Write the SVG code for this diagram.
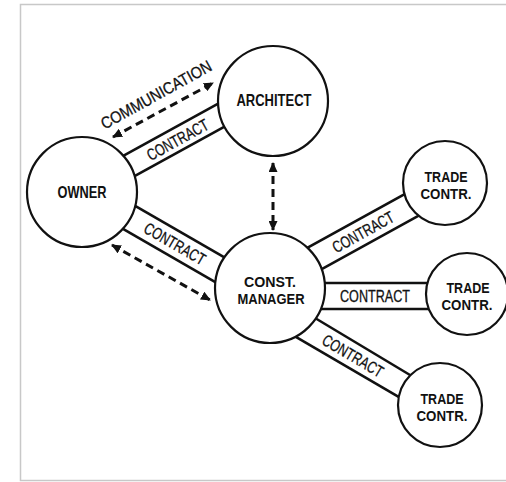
<svg xmlns="http://www.w3.org/2000/svg" width="506" height="482" viewBox="0 0 506 482">
<defs>
<style>
.frame{fill:none;stroke:#c8c8c8;stroke-width:1.5}
.band{stroke:#111;stroke-width:2.6;fill:none;stroke-linecap:butt}
.dash{stroke:#111;stroke-width:3;fill:none;stroke-dasharray:8 5}
.node circle{fill:#fff;stroke:#111;stroke-width:2.2}
.lbl{font-family:"Liberation Sans",Arial,sans-serif;font-weight:bold;font-size:16.5px;fill:#111;text-anchor:middle}
.lbl2{font-family:"Liberation Sans",Arial,sans-serif;font-weight:bold;font-size:14.5px;fill:#111;text-anchor:middle}
.ctr{font-family:"Liberation Sans",Arial,sans-serif;font-size:16.5px;fill:#111;stroke:#111;stroke-width:0.3;text-anchor:middle}
</style>
<marker id="ah" markerWidth="10" markerHeight="9" refX="9" refY="4.5" orient="auto-start-reverse" markerUnits="userSpaceOnUse">
<path d="M0,0 L10,4.5 L0,9 z" fill="#111"/>
</marker>
</defs>
<rect class="frame" x="20.5" y="4.5" width="500" height="476"/>
<g id="connectors">
<line class="band" x1="110" y1="163.2" x2="240" y2="91.7"/>
<line class="band" x1="110" y1="189.7" x2="240" y2="118.2"/>
<line class="band" x1="110" y1="191.3" x2="240" y2="266.3"/>
<line class="band" x1="110" y1="221.3" x2="240" y2="296.4"/>
<line class="band" x1="290" y1="257.4" x2="440" y2="174.7"/>
<line class="band" x1="290" y1="286.7" x2="440" y2="203.9"/>
<line class="band" x1="300" y1="283" x2="450" y2="283"/>
<line class="band" x1="300" y1="309" x2="450" y2="309"/>
<line class="band" x1="290" y1="303" x2="430" y2="387"/>
<line class="band" x1="280" y1="327.6" x2="420" y2="409.4"/>
<line class="dash" x1="113" y1="137" x2="213" y2="83" marker-start="url(#ah)" marker-end="url(#ah)"/>
<line class="dash" x1="273" y1="163" x2="273" y2="230" marker-start="url(#ah)" marker-end="url(#ah)"/>
<line class="dash" x1="112" y1="245" x2="210" y2="300" marker-start="url(#ah)" marker-end="url(#ah)"/>
<text class="ctr" transform="translate(156,94.5) rotate(-29)" y="6" textLength="124" lengthAdjust="spacingAndGlyphs">COMMUNICATION</text>
<text class="ctr" transform="translate(177.5,139.5) rotate(-29)" y="6" textLength="68" lengthAdjust="spacingAndGlyphs">CONTRACT</text>
<text class="ctr" transform="translate(175,243.5) rotate(30)" y="6" textLength="68" lengthAdjust="spacingAndGlyphs">CONTRACT</text>
<text class="ctr" transform="translate(363,231.8) rotate(-29)" y="6" textLength="68" lengthAdjust="spacingAndGlyphs">CONTRACT</text>
<text class="ctr" transform="translate(375,296)" y="6" textLength="70" lengthAdjust="spacingAndGlyphs">CONTRACT</text>
<text class="ctr" transform="translate(353,355.6) rotate(30.5)" y="6" textLength="68" lengthAdjust="spacingAndGlyphs">CONTRACT</text>
</g>
<g id="owner" class="node">
<circle cx="82" cy="192" r="55"/>
<text class="lbl" x="82" y="198" textLength="49" lengthAdjust="spacingAndGlyphs">OWNER</text>
</g>
<g id="architect" class="node">
<circle cx="273" cy="101" r="55"/>
<text class="lbl" x="274" y="106" textLength="75" lengthAdjust="spacingAndGlyphs">ARCHITECT</text>
</g>
<g id="cm" class="node">
<circle cx="270" cy="288" r="55"/>
<text class="lbl2" x="270" y="287" textLength="52" lengthAdjust="spacingAndGlyphs">CONST.</text>
<text class="lbl2" x="271" y="304" textLength="67" lengthAdjust="spacingAndGlyphs">MANAGER</text>
</g>
<g id="trade1" class="node">
<circle cx="445" cy="183" r="42"/>
<text class="lbl2" x="446" y="181.5" textLength="43" lengthAdjust="spacingAndGlyphs">TRADE</text>
<text class="lbl2" x="446" y="198.5" textLength="51" lengthAdjust="spacingAndGlyphs">CONTR.</text>
</g>
<g id="trade2" class="node">
<circle cx="467" cy="294" r="41"/>
<text class="lbl2" x="468" y="292.5" textLength="43" lengthAdjust="spacingAndGlyphs">TRADE</text>
<text class="lbl2" x="467" y="309.5" textLength="51" lengthAdjust="spacingAndGlyphs">CONTR.</text>
</g>
<g id="trade3" class="node">
<circle cx="440" cy="405" r="42"/>
<text class="lbl2" x="442" y="403.5" textLength="43" lengthAdjust="spacingAndGlyphs">TRADE</text>
<text class="lbl2" x="442" y="420.5" textLength="51" lengthAdjust="spacingAndGlyphs">CONTR.</text>
</g>
</svg>
